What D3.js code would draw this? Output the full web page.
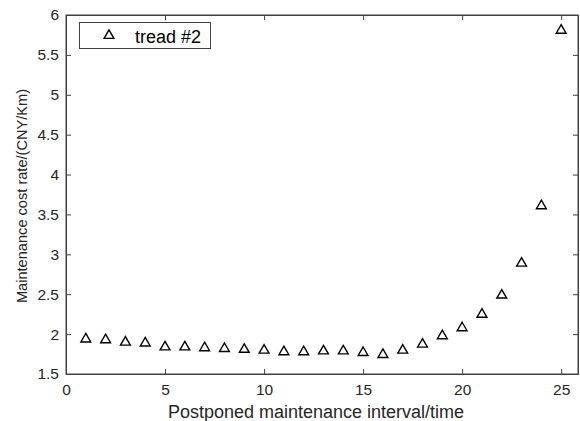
<!DOCTYPE html>
<html>
<head>
<meta charset="utf-8">
<script src="https://cdn.jsdelivr.net/npm/d3@7"></script>
<style>
  body { margin:0; background:#fff; }
  svg { display:block; font-family:"Liberation Sans", Arial, sans-serif; }
</style>
</head>
<body>
<svg id="chart"></svg>
<script>
// data
var intervals = [1,2,3,4,5,6,7,8,9,10,11,12,13,14,15,16,17,18,19,20,21,22,23,24,25];
var costRate = [1.95,1.94,1.91,1.90,1.85,1.85,1.84,1.83,1.82,1.81,1.79,1.79,1.80,1.80,1.78,1.755,1.81,1.885,1.99,2.09,2.26,2.50,2.90,3.62,5.82];
var xTicks = [0,5,10,15,20,25];
var yTicks = [1.5,2,2.5,3,3.5,4,4.5,5,5.5,6];
var seriesName = "tread #2";

var screen = {width:580, height:421};
var margins = {top:15, bottom:47, left:66, right:2};

var graph =
{
    width:screen.width-margins.left-margins.right,
    height:screen.height-margins.top-margins.bottom
}

var xScale = d3.scaleLinear()
    .domain([0,25.85])
    .range([0,graph.width]);

var yScale = d3.scaleLinear()
    .domain([1.5,6])
    .range([graph.height,0]);

var svg = d3.select("#chart")
    .attr("width",screen.width)
    .attr("height",screen.height);

var g = svg.append("g")
    .attr("transform","translate("+margins.left+","+margins.top+")");

var axisColor = "#404040";
var textColor = "#262626";

// frame
g.append("rect")
    .attr("x",0).attr("y",0)
    .attr("width",graph.width).attr("height",graph.height)
    .attr("fill","none")
    .attr("stroke",axisColor)
    .attr("stroke-width",1);

var fmt = d3.format("~g");
var xAxis = d3.axisBottom(xScale).tickValues(xTicks).tickSizeInner(-5).tickSizeOuter(0).tickPadding(10).tickFormat(fmt);
var yAxis = d3.axisLeft(yScale).tickValues(yTicks).tickSizeInner(-5).tickSizeOuter(0).tickPadding(7).tickFormat(fmt);

var gx = g.append("g")
    .attr("transform","translate(0,"+graph.height+")")
    .call(xAxis);
var gy = g.append("g").call(yAxis);

// mirrored ticks on top and right
g.append("g").call(d3.axisTop(xScale).tickValues(xTicks).tickSizeInner(-5).tickSizeOuter(0).tickFormat(""));
g.append("g")
    .attr("transform","translate("+graph.width+",0)")
    .call(d3.axisRight(yScale).tickValues(yTicks).tickSizeInner(-5).tickSizeOuter(0).tickFormat(""));

g.selectAll(".domain").attr("stroke",axisColor);
g.selectAll(".tick line").attr("stroke",axisColor);
g.selectAll(".tick text")
    .attr("fill",textColor)
    .style("font-size","15.5px");

// triangle markers
var tri = d3.symbol().type(d3.symbolTriangle).size(42);

g.selectAll("path.pt")
    .data(intervals)
    .enter()
    .append("path")
    .attr("class","pt")
    .attr("d",tri)
    .attr("transform",function(d,i)
    {
        return "translate("+xScale(d)+","+(yScale(costRate[i])+1)+")";
    })
    .attr("fill","none")
    .attr("stroke","#000")
    .attr("stroke-width",1.4);

// axis labels
svg.append("text")
    .attr("x",316)
    .attr("y",418)
    .attr("text-anchor","middle")
    .attr("fill",textColor)
    .style("font-size","18px")
    .text("Postponed maintenance interval/time");

svg.append("text")
    .attr("transform","translate(27,196) rotate(-90)")
    .attr("text-anchor","middle")
    .attr("fill",textColor)
    .style("font-size","14.6px")
    .text("Maintenance cost rate/(CNY/Km)");

// legend
var legend = svg.append("g");
legend.append("rect")
    .attr("x",79.5).attr("y",22.5)
    .attr("width",131).attr("height",26)
    .attr("fill","#fff")
    .attr("stroke","#404040")
    .attr("stroke-width",1);
legend.append("path")
    .attr("d",tri)
    .attr("transform","translate(109,35.5)")
    .attr("fill","none")
    .attr("stroke","#000")
    .attr("stroke-width",1.4);
legend.append("text")
    .attr("x",135).attr("y",43)
    .attr("fill","#000")
    .style("font-size","18px")
    .text(seriesName);
</script>
</body>
</html>
